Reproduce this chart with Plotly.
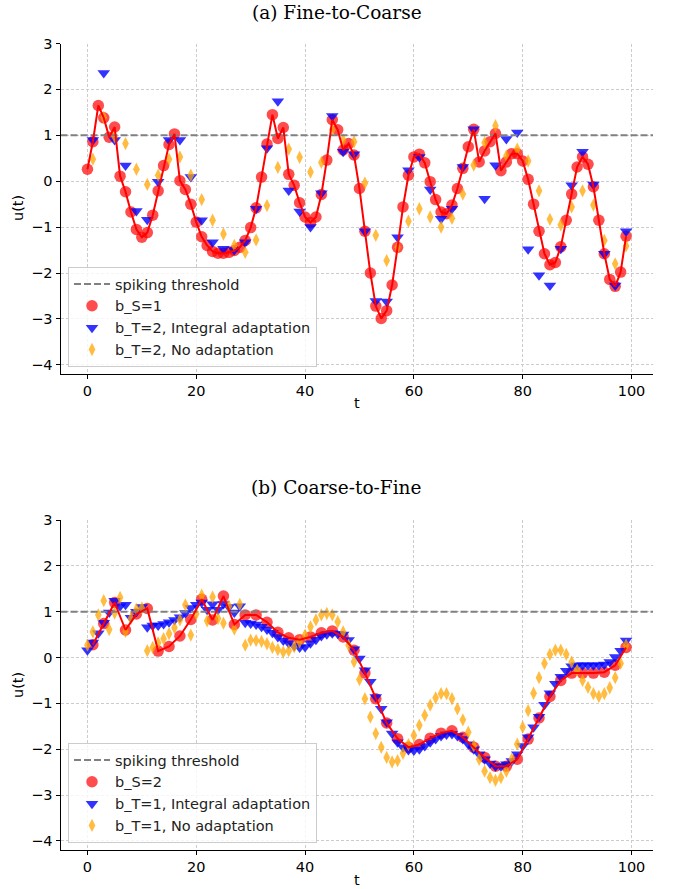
import plotly.graph_objects as go

# ---------------- data ----------------
T_ALL = list(range(100))
T_ODD = list(range(1, 100, 2))
THRESHOLD = 1.0
X_RANGE = [-4.95, 103.95]
Y_RANGE = [-4.2, 3.0]
X_TICKS = [0, 20, 40, 60, 80, 100]
Y_TICKS = [-4, -3, -2, -1, 0, 1, 2, 3]

# (a) Fine-to-Coarse
a_red = [0.26, 0.86, 1.65, 1.38, 0.96, 1.18, 0.11, -0.23, -0.67, -1.05,
         -1.22, -1.12, -0.74, -0.21, 0.34, 0.80, 1.03, 0.01, -0.18, -0.50,
         -0.89, -1.21, -1.40, -1.53, -1.57, -1.57, -1.55, -1.51, -1.44, -1.29,
         -1.01, -0.58, 0.09, 0.81, 1.45, 0.93, 1.17, 0.15, -0.09, -0.47,
         -0.78, -0.90, -0.78, -0.29, 0.46, 1.34, 1.12, 0.68, 0.82, 0.57,
         -0.16, -1.09, -2.00, -2.72, -2.99, -2.82, -2.26, -1.44, -0.56, 0.13,
         0.53, 0.59, 0.40, -0.01, -0.40, -0.67, -0.71, -0.52, -0.16, 0.28,
         0.75, 1.13, 0.42, 0.66, 0.86, 1.04, 0.23, 0.42, 0.60, 0.60,
         0.44, 0.04, -0.50, -1.09, -1.58, -1.82, -1.77, -1.43, -0.85, -0.28,
         0.31, 0.53, 0.37, -0.12, -0.85, -1.58, -2.14, -2.29, -1.98, -1.20]
a_blue = [0.90, 2.36, 0.90, 0.34, -0.65, -0.84, -0.01, 0.90, 0.90, 0.09,
          -0.85, -1.33, -1.47, -1.50, -1.33, -0.60, 0.72, 1.74, -0.20, -0.66,
          -1.00, -0.26, 1.42, 0.64, 0.59, -1.09, -2.61, -2.62, -1.22, 0.24,
          0.53, -0.18, -0.82, -0.60, 0.31, 1.13, -0.38, 0.35, 0.92, 1.06,
          -1.48, -2.05, -2.27, -1.47, -0.09, 0.64, -0.07, -1.58, -2.27, -1.09]
a_orange = [0.48, 1.39, 0.97, 0.82, 0.26, -0.07, 0.13, 0.48, 0.53, 0.13,
            -0.40, -0.85, -1.15, -1.40, -1.55, -1.28, -0.53, 0.30, 0.70, 0.52,
            0.20, 0.41, 1.12, 0.90, 0.86, -0.04, -1.18, -1.73, -1.44, -0.87,
            -0.60, -0.78, -1.00, -0.81, -0.28, 0.35, 0.84, 1.21, 0.55, 0.70,
            0.44, -0.21, -0.83, -0.95, -0.56, -0.21, -0.52, -1.29, -1.80, -1.41]

# (b) Coarse-to-Fine
b_red = [0.28, 0.74, 1.20, 0.60, 0.95, 1.07, 0.14, 0.24, 0.47, 0.83,
         1.27, 0.82, 1.34, 0.72, 0.93, 0.93, 0.77, 0.55, 0.43, 0.39,
         0.45, 0.54, 0.58, 0.45, 0.16, -0.34, -0.90, -1.43, -1.77, -1.96,
         -1.90, -1.76, -1.65, -1.60, -1.74, -1.96, -2.18, -2.37, -2.37, -2.22,
         -1.78, -1.32, -0.85, -0.50, -0.34, -0.34, -0.34, -0.32, -0.17, 0.22]
b_blue = [0.16, 0.33, 0.53, 0.76, 0.98, 1.24, 1.12, 1.15, 0.87, 1.00,
          1.10, 0.66, 0.70, 0.70, 0.73, 0.77, 0.82, 0.88, 0.97, 1.08,
          1.15, 1.20, 1.04, 1.16, 1.04, 1.17, 1.10, 0.98, 1.12, 0.76,
          0.74, 0.72, 0.67, 0.61, 0.54, 0.45, 0.37, 0.31, 0.25, 0.22,
          0.23, 0.31, 0.39, 0.47, 0.51, 0.53, 0.52, 0.50, 0.38, 0.18,
          -0.02, -0.28, -0.53, -0.86, -1.12, -1.41, -1.66, -1.85, -1.96, -2.02,
          -2.03, -2.00, -1.93, -1.85, -1.78, -1.71, -1.68, -1.67, -1.71, -1.78,
          -1.89, -2.00, -2.11, -2.22, -2.31, -2.37, -2.37, -2.33, -2.26, -2.11,
          -1.93, -1.74, -1.52, -1.29, -1.03, -0.78, -0.57, -0.42, -0.29, -0.19,
          -0.17, -0.17, -0.17, -0.17, -0.17, -0.15, -0.10, 0.01, 0.15, 0.37]
b_orange = [0.27, 0.56, 0.93, 1.24, 0.61, 0.97, 1.31, 0.57, 0.85, 1.05,
            1.08, 0.15, 0.22, 0.32, 0.41, 0.52, 0.65, 0.82, 1.15, 0.49,
            0.95, 1.36, 0.80, 1.32, 0.85, 0.75, 1.12, 0.62, 1.16, 0.27,
            0.38, 0.37, 0.35, 0.30, 0.22, 0.17, 0.12, 0.15, 0.23, 0.34,
            0.49, 0.67, 0.82, 0.93, 0.96, 0.93, 0.78, 0.56, 0.27, -0.09,
            -0.48, -0.90, -1.30, -1.66, -1.96, -2.18, -2.28, -2.25, -2.09, -1.90,
            -1.70, -1.48, -1.26, -1.04, -0.88, -0.79, -0.79, -0.90, -1.12, -1.36,
            -1.63, -1.93, -2.22, -2.48, -2.62, -2.68, -2.62, -2.48, -2.22, -1.89,
            -1.52, -1.16, -0.78, -0.44, -0.13, 0.07, 0.16, 0.16, 0.07, -0.10,
            -0.28, -0.50, -0.65, -0.79, -0.85, -0.79, -0.66, -0.44, -0.13, 0.27]

panels = [
    dict(title="(a) Fine-to-Coarse", red_t=T_ALL, red=a_red, blue_t=T_ODD, blue=a_blue,
         orange_t=T_ODD, orange=a_orange, red_name="b_S=1",
         blue_name="b_T=2, Integral adaptation", orange_name="b_T=2, No adaptation"),
    dict(title="(b) Coarse-to-Fine", red_t=T_ODD, red=b_red, blue_t=T_ALL, blue=b_blue,
         orange_t=T_ALL, orange=b_orange, red_name="b_S=2",
         blue_name="b_T=1, Integral adaptation", orange_name="b_T=1, No adaptation"),
]

W, H = 673, 889
X_DOM = [60.5 / W, 653 / W]
Y_DOMS = [[(H - 374) / H, (H - 43.5) / H], [(H - 850) / H, (H - 520) / H]]
TITLE_Y = [(H - 12) / H, (H - 487) / H]
YLAB_Y = [(H - 208) / H, (H - 685) / H]
XLAB_Y = [(H - 403) / H, (H - 880) / H]
LEG_Y = [(H - 267) / H, (H - 743) / H]

TICK_FONT = dict(family="DejaVu Sans", size=14.5, color="black")

fig = go.Figure()
annotations = []
for i, p in enumerate(panels):
    xa = "x" if i == 0 else "x2"
    ya = "y" if i == 0 else "y2"
    leg = "legend" if i == 0 else "legend2"
    fig.add_trace(go.Scatter(x=p["red_t"], y=p["red"], mode="markers", name=p["red_name"],
                             marker=dict(symbol="circle", size=11.5, color="red", opacity=0.7,
                                         line=dict(width=0)),
                             xaxis=xa, yaxis=ya, legend=leg, legendrank=2))
    fig.add_trace(go.Scatter(x=p["blue_t"], y=p["blue"], mode="markers", name=p["blue_name"],
                             marker=dict(symbol="triangle-down", size=11, color="blue", opacity=0.8,
                                         line=dict(width=0)),
                             xaxis=xa, yaxis=ya, legend=leg, legendrank=3))
    fig.add_trace(go.Scatter(x=p["orange_t"], y=p["orange"], mode="markers", name=p["orange_name"],
                             marker=dict(symbol="diamond-tall", size=9.5, color="orange", opacity=0.75,
                                         line=dict(width=0)),
                             xaxis=xa, yaxis=ya, legend=leg, legendrank=4))
    fig.add_trace(go.Scatter(x=X_RANGE, y=[THRESHOLD, THRESHOLD], mode="lines",
                             name="spiking threshold",
                             line=dict(color="gray", width=2, dash="7px,3px"),
                             xaxis=xa, yaxis=ya, legend=leg, legendrank=1))
    fig.add_trace(go.Scatter(x=p["red_t"], y=p["red"], mode="lines", showlegend=False,
                             line=dict(color="red", width=2), xaxis=xa, yaxis=ya,
                             hoverinfo="skip"))
    annotations += [
        dict(text=p["title"], x=0.5, y=TITLE_Y[i], xref="paper", yref="paper",
             xanchor="center", yanchor="middle", showarrow=False,
             font=dict(family="DejaVu Serif", size=18.5, color="black")),
        dict(text="u(t)", x=18 / W, y=YLAB_Y[i], xref="paper", yref="paper",
             xanchor="center", yanchor="middle", showarrow=False, textangle=-90,
             font=dict(family="DejaVu Sans", size=14.5, color="black")),
        dict(text="t", x=(X_DOM[0] + X_DOM[1]) / 2, y=XLAB_Y[i], xref="paper", yref="paper",
             xanchor="center", yanchor="middle", showarrow=False,
             font=dict(family="DejaVu Sans", size=14.5, color="black")),
    ]

axis_common = dict(showline=True, linecolor="black", linewidth=1, mirror=False,
                   ticks="outside", ticklen=4, tickwidth=1, tickcolor="black",
                   showgrid=True, gridcolor="#cccccc", gridwidth=0.8, griddash="3px,2px",
                   zeroline=False, tickfont=TICK_FONT)

legend_common = dict(xanchor="left", yanchor="top", bgcolor="rgba(255,255,255,0.8)",
                     bordercolor="#cccccc", borderwidth=1, itemwidth=36,
                     font=dict(family="DejaVu Sans", size=14.5, color="#222222"))

fig.update_layout(
    width=W, height=H, margin=dict(l=0, r=0, t=0, b=0, autoexpand=False),
    paper_bgcolor="white", plot_bgcolor="white",
    xaxis=dict(domain=X_DOM, range=X_RANGE, tickvals=X_TICKS, anchor="y", **axis_common),
    yaxis=dict(domain=Y_DOMS[0], range=Y_RANGE, tickvals=Y_TICKS, anchor="x", **axis_common),
    xaxis2=dict(domain=X_DOM, range=X_RANGE, tickvals=X_TICKS, anchor="y2", **axis_common),
    yaxis2=dict(domain=Y_DOMS[1], range=Y_RANGE, tickvals=Y_TICKS, anchor="x2", **axis_common),
    legend=dict(x=68 / W, y=LEG_Y[0], **legend_common),
    legend2=dict(x=68 / W, y=LEG_Y[1], **legend_common),
    annotations=annotations,
    showlegend=True,
)

fig.write_html("out.html", config={"displayModeBar": False},
               post_script="document.body.style.margin='0px';document.body.style.overflow='hidden';")
